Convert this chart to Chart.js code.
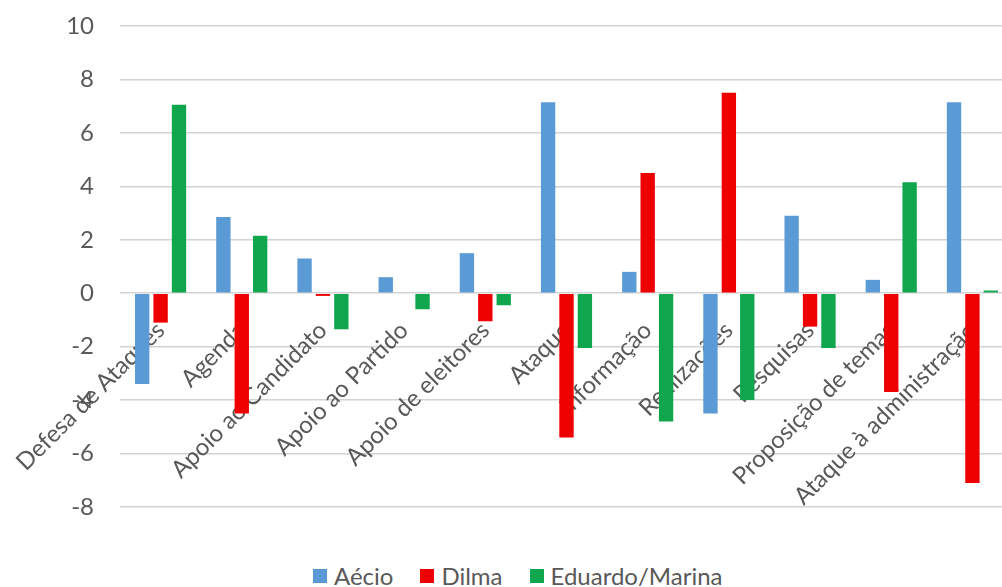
<!DOCTYPE html>
<html lang="pt">
<head>
    <meta charset="UTF-8">
    <title>Aécio, Dilma, Eduardo/Marina</title>
    <script src="https://cdn.jsdelivr.net/npm/chart.js"></script>
    <style>
        body {
            margin: 0;
            font-family: 'Lato', sans-serif;
            background-color: #FFFFFF;
            overflow: hidden;
        }
        #chart-box {
            position: absolute;
            left: 0;
            top: 0;
            width: 1016px;
            height: 530px;
        }
        #legend-container {
            position: absolute;
            left: 313px;
            top: 561px;
            display: flex;
            color: #595959;
            font-size: 24px;
        }
        .legend-item {
            display: flex;
            align-items: center;
            margin-right: 27px;
        }
        .legend-color {
            width: 14px;
            height: 14px;
            margin-right: 7px;
        }
    </style>
</head>
<body>
    <div id="chart-box"><canvas id="myChart"></canvas></div>
    <div id="legend-container"></div>

    <script>
        var categories = ['Defesa de Ataques', 'Agenda', 'Apoio ao Candidato', 'Apoio ao Partido',
            'Apoio de eleitores', 'Ataque', 'Informação', 'Realizações', 'Pesquisas',
            'Proposição de temas', 'Ataque à administração'];
        var aecio  = [-3.4, 2.85, 1.3, 0.6, 1.5, 7.15, 0.8, -4.5, 2.9, 0.5, 7.15];
        var dilma  = [-1.1, -4.5, -0.1, 0, -1.05, -5.4, 4.5, 7.5, -1.25, -3.7, -7.1];
        var eduardoMarina = [7.05, 2.15, -1.35, -0.6, -0.45, -2.05, -4.8, -4.0, -2.05, 4.15, 0.1];
        var seriesNames = ['Aécio', 'Dilma', 'Eduardo/Marina'];
        var seriesColors = ['#5b9bd5', '#ee0000', '#10a64e'];

        var ctx = document.getElementById('myChart').getContext('2d');
        var allSeries = [aecio, dilma, eduardoMarina];

        var chartData = {
            labels: categories,
            datasets: allSeries.map(function(values, i) {
                return {
                    label: seriesNames[i],
                    data: values,
                    backgroundColor: seriesColors[i],
                    borderWidth: 0,
                    categoryPercentage: 0.68,
                    barPercentage: 0.78
                };
            })
        };

        var myChart = new Chart(ctx, {
            type: 'bar',
            data: chartData,
            options: {
                responsive: true,
                maintainAspectRatio: false,
                animation: false,
                layout: {
                    padding: { top: 26, right: 3, bottom: 23, left: 0 }
                },
                scales: {
                    x: {
                        position: { y: 0 },
                        grid: { display: false, drawTicks: false },
                        border: { display: false },
                        ticks: {
                            autoSkip: false,
                            minRotation: 45,
                            maxRotation: 45,
                            padding: 23,
                            color: '#595959',
                            font: { family: 'Lato', size: 24 }
                        },
                        // labels sit on the zero line, so they take no room of their own
                        afterFit: function(scale) {
                            scale.height = 0;
                            scale.paddingLeft = 0;
                            scale.paddingRight = 0;
                        }
                    },
                    y: {
                        min: -8,
                        max: 10,
                        ticks: {
                            stepSize: 2,
                            padding: 26,
                            color: '#595959',
                            font: { family: 'Lato', size: 24 }
                        },
                        grid: {
                            color: '#d3d3d3',
                            lineWidth: 1.5,
                            drawTicks: false
                        },
                        border: { display: false },
                        afterFit: function(scale) {
                            scale.width = 120;
                            scale.paddingTop = 0;
                            scale.paddingBottom = 0;
                        }
                    }
                },
                plugins: {
                    legend: { display: false },
                    tooltip: { enabled: false }
                }
            }
        });

        // Custom legend
        var legendContainer = document.getElementById('legend-container');
        seriesNames.forEach(function(name, index) {
            var legendItem = document.createElement('div');
            legendItem.classList.add('legend-item');

            var legendColor = document.createElement('div');
            legendColor.classList.add('legend-color');
            legendColor.style.backgroundColor = seriesColors[index];

            var legendLabel = document.createElement('div');
            legendLabel.textContent = name;

            legendItem.appendChild(legendColor);
            legendItem.appendChild(legendLabel);
            legendContainer.appendChild(legendItem);
        });
    </script>
</body>
</html>
